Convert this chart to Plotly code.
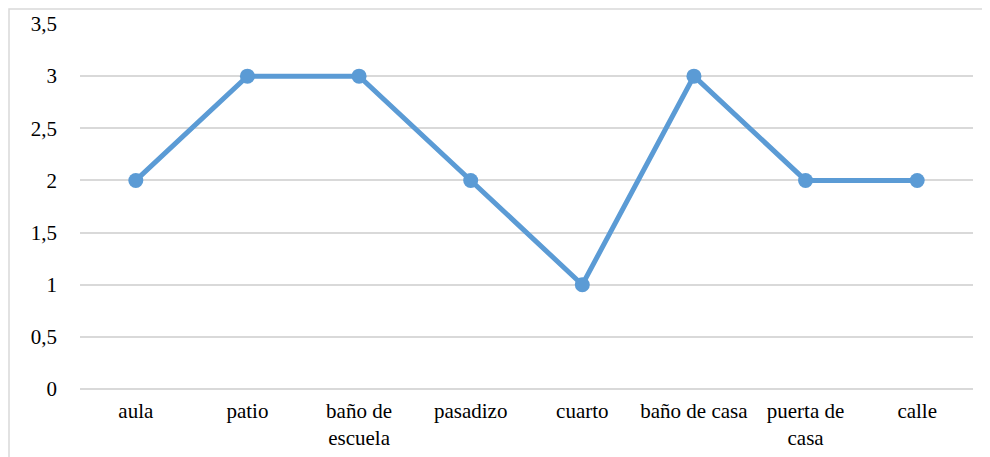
import plotly.graph_objects as go

lugares = ['aula', 'patio', 'baño de<br>escuela', 'pasadizo', 'cuarto',
           'baño de casa', 'puerta de<br>casa', 'calle']
valores = [2, 3, 3, 2, 1, 3, 2, 2]
y_ticks = [0, 0.5, 1, 1.5, 2, 2.5, 3, 3.5]

serif = 'Times New Roman, Liberation Serif, Times, serif'

fig = go.Figure()
fig.add_trace(go.Scatter(
    x=lugares, y=valores, mode='lines+markers',
    line=dict(color='#5B9BD5', width=5),
    marker=dict(color='#5B9BD5', size=15),
    cliponaxis=False, showlegend=False
))

# the page body has an 8px margin, so the figure is a bit smaller
fig.update_layout(
    width=982, height=449,
    margin=dict(l=72, r=17, t=16, b=68),
    paper_bgcolor='white', plot_bgcolor='white',
    separators=',.',
    font=dict(family=serif, color='#000000'),
    xaxis=dict(range=[-0.5, len(lugares) - 0.5], automargin=False,
               showgrid=False, showline=False, zeroline=False, ticks='',
               tickfont=dict(family=serif, size=21), ticklabelstandoff=7),
    yaxis=dict(range=[0, 3.5], tickvals=y_ticks, automargin=False,
               showgrid=True, gridcolor='#d9d9d9', gridwidth=1.5,
               zeroline=True, zerolinecolor='#d9d9d9', zerolinewidth=1.5,
               showline=False, ticks='', tickfont=dict(family=serif, size=21),
               ticklabelstandoff=22),
    shapes=[dict(type='rect', xref='paper', yref='paper',
                 x0=-71 / 893, x1=1.2, y0=-0.5, y1=1 + 15 / 365,
                 line=dict(color='#d9d9d9', width=1.5), layer='below')]
)

fig.write_html("out.html")
